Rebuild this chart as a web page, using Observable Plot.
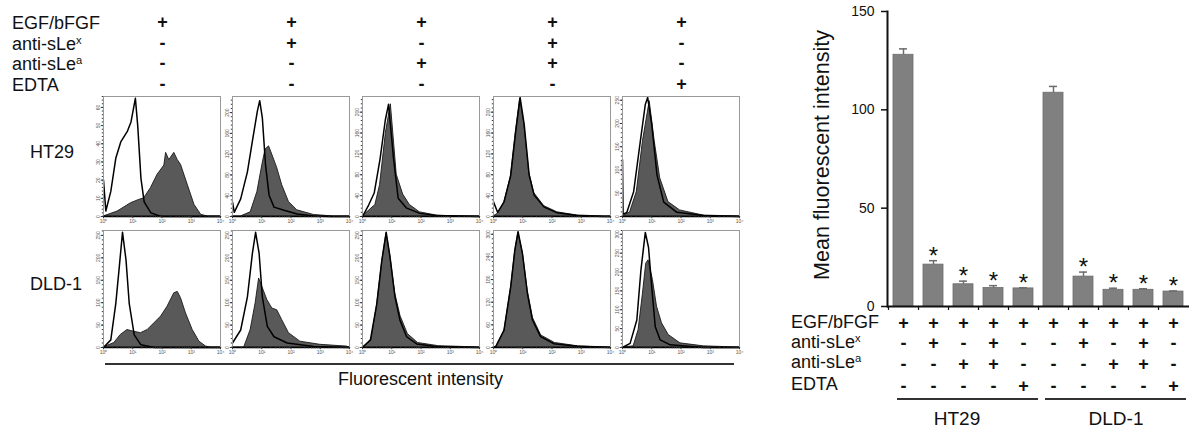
<!DOCTYPE html>
<html><head><meta charset="utf-8">
<script src="https://cdn.jsdelivr.net/npm/d3@7"></script>
<script src="https://cdn.jsdelivr.net/npm/@observablehq/plot@0.6"></script>
<style>
html,body{margin:0;padding:0;background:#fff;}
#root{position:relative;width:1191px;height:428px;overflow:hidden;font-family:"Liberation Sans",Arial,sans-serif;color:#111;}
.t{position:absolute;white-space:nowrap;line-height:1;}
.pm{position:absolute;transform:translate(-50%,-50%);font-size:18px;font-weight:bold;line-height:1;white-space:nowrap;}
sup{font-size:62%;vertical-align:0.5em;line-height:0;}
.abs{position:absolute;}
</style></head><body><div id="root"></div>
<script>
// ---------- treatment table ----------
const rowLabels = ["EGF/bFGF", "anti-sLe<sup>x</sup>", "anti-sLe<sup>a</sup>", "EDTA"];
const egfSigns  = ["+", "+", "+", "+", "+"];
const sLexSigns = ["-", "+", "-", "+", "-"];
const sLeaSigns = ["-", "-", "+", "+", "-"];
const edtaSigns = ["-", "-", "-", "-", "+"];
const cellLines = ["HT29", "DLD-1"];

// ---------- flow histograms: [log10 fluorescence, count] ----------
const ht29_1_fill = [[0,0],[0.48,2.7],[0.94,7.3],[1.2,9],[1.39,10],[1.62,15.6],[1.85,23],[2.08,28],[2.14,35],[2.25,31],[2.42,35],[2.54,31],[2.65,28.4],[2.88,17.4],[3.11,6.4],[3.34,0.9],[3.57,0],[4,0]];
const ht29_1_ctrl = [[0,20],[0.08,3],[0.25,13.8],[0.42,32],[0.59,41],[0.82,47],[0.94,52],[1.09,65],[1.17,50],[1.28,21],[1.39,8],[1.62,2],[1.97,0],[4,0]];
const ht29_2_fill = [[0,0],[0.28,0],[0.62,8],[0.85,47],[1.02,99],[1.13,129],[1.25,135],[1.36,119],[1.53,93],[1.70,60],[1.93,28],[2.21,12],[2.78,3],[3.46,0],[4,0]];
const ht29_2_ctrl = [[0,28],[0.06,8],[0.28,34],[0.51,86],[0.68,145],[0.85,203],[0.93,223],[1.02,190],[1.13,99],[1.25,41],[1.42,18],[1.76,12],[2.21,5],[2.78,1],[3.34,0],[4,0]];
const ht29_3_fill = [[0,0],[0.44,22],[0.6,60],[0.8,160],[0.97,215],[1.17,80],[1.39,42],[1.62,22],[1.96,8],[2.52,2],[3,0.5],[4,0]];
const ht29_3_ctrl = [[0,0],[0.21,22],[0.4,45],[0.6,110],[0.78,185],[0.89,215],[1.06,112],[1.22,35],[1.51,16],[1.96,6],[2.52,2],[4,0]];
const ht29_4_fill = [[0,0],[0.14,5],[0.36,25],[0.59,75],[0.76,160],[0.91,226],[1.05,178],[1.22,85],[1.39,45],[1.73,20],[2.18,8],[2.86,2],[3.77,0],[4,0]];
const ht29_4_ctrl = [[0,28],[0.14,8],[0.36,28],[0.59,79],[0.76,163],[0.91,228],[1.05,176],[1.22,79],[1.39,41],[1.73,18],[2.18,7],[2.86,2],[3.77,0],[4,0]];
const ht29_5_fill = [[0,0],[0.26,9],[0.49,53],[0.7,162],[0.93,248],[1.1,162],[1.29,82],[1.57,31],[1.97,13],[2.77,2],[4,0]];
const ht29_5_ctrl = [[0,122],[0.02,5],[0.15,9],[0.38,53],[0.61,162],[0.78,241],[0.86,256],[1.0,198],[1.18,89],[1.41,31],[1.86,9],[2.78,2],[4,0]];

const dld1_1_fill = [[0,0],[0.37,10],[0.59,28],[0.82,39],[1.05,35],[1.28,32],[1.51,39],[1.74,54],[1.97,69],[2.19,91],[2.42,121],[2.54,124],[2.65,110],[2.82,76],[3.05,39],[3.28,13],[3.51,2],[3.68,0],[4,0]];
const dld1_1_ctrl = [[0,0],[0.25,17],[0.42,98],[0.54,180],[0.65,257],[0.77,195],[0.88,98],[1.05,28],[1.28,6],[1.74,0],[4,0]];
const dld1_2_fill = [[0,0],[0.4,0],[0.62,39],[0.79,98],[0.91,154],[1.02,135],[1.19,106],[1.36,87],[1.53,83],[1.70,61],[1.93,32],[2.32,13],[3.0,6],[3.91,2],[4,0]];
const dld1_2_ctrl = [[0,10],[0.28,39],[0.51,113],[0.68,210],[0.79,257],[0.91,210],[1.02,113],[1.19,47],[1.42,24],[1.87,10],[2.78,2],[4,0]];
const dld1_3_fill = [[0,0],[0.3,15],[0.5,95],[0.67,190],[0.82,255],[0.95,205],[1.12,120],[1.3,70],[1.55,30],[1.9,10],[2.6,3],[4,0]];
const dld1_3_ctrl = [[0,0],[0.27,17],[0.49,98],[0.66,194],[0.81,257],[0.94,202],[1.11,113],[1.28,61],[1.51,24],[1.85,8],[2.52,2],[4,0]];
const dld1_4_fill = [[0,0],[0.1,2],[0.37,42],[0.6,158],[0.74,255],[0.85,304],[1.0,252],[1.17,150],[1.35,78],[1.63,32],[2.1,12],[2.9,3],[4,0]];
const dld1_4_ctrl = [[0,0],[0.08,3],[0.36,46],[0.59,162],[0.73,258],[0.84,307],[0.99,249],[1.16,143],[1.33,73],[1.61,29],[2.07,10],[2.86,3],[4,0]];
const dld1_5_fill = [[0,0],[0.38,3],[0.55,46],[0.70,143],[0.81,222],[0.89,231],[1.04,179],[1.18,108],[1.35,64],[1.58,33],[1.98,11],[2.78,3],[4,0]];
const dld1_5_ctrl = [[0,0],[0.26,11],[0.49,73],[0.63,205],[0.78,305],[0.89,265],[1.0,160],[1.12,55],[1.29,20],[1.63,7],[2.77,0],[4,0]];

const ht29YTicks = [[0,10,20,30,40,50,60],[0,40,80,120,160,200],[0,40,80,120,160,200],[0,40,80,120,160,200],[0,50,100,150,200,250]];
const ht29YMax = [66, 231, 230, 230, 258];
const dld1YTicks = [[0,50,100,150,200,250],[0,50,100,150,200,250],[0,50,100,150,200,250],[0,60,120,180,240,300],[0,50,100,150,200,250,300]];
const dld1YMax = [261, 261, 261, 310, 310];
const xDecadeTicks = [1, 10, 100, 1000, 10000];
const xDecadeLabels = ["10\u2070", "10\u00b9", "10\u00b2", "10\u00b3", "10\u2074"];

// ---------- bar chart ----------
const barIds    = ["H1","H2","H3","H4","H5","D1","D2","D3","D4","D5"];
const barMeans  = [128, 21.3, 11.3, 9.4, 9.2, 108.7, 15.2, 8.5, 8.5, 7.6];
const barErrors = [3.0, 2.0, 1.6, 1.2, 0.3, 3.2, 2.3, 0.8, 0.5, 0.3];
const barSig    = [false, true, true, true, true, false, true, true, true, true];
const barYTicks = [0, 50, 100, 150];

// ---------- layout ----------
const root = document.getElementById("root");
function txt(html, left, baseline, fs, center) {
  const d = document.createElement("div");
  d.className = "t";
  d.style.left = left + "px";
  d.style.top = (baseline - 0.847 * fs) + "px";
  d.style.fontSize = fs + "px";
  if (center) d.style.transform = "translateX(-50%)";
  d.innerHTML = html;
  root.appendChild(d);
  return d;
}
function pm(s, cx, cy) {
  const d = document.createElement("div");
  d.className = "pm";
  d.style.left = cx + "px";
  d.style.top = cy + "px";
  d.textContent = s;
  root.appendChild(d);
}
function hline(x1, x2, y, w) {
  const d = document.createElement("div");
  d.className = "abs";
  d.style.left = x1 + "px"; d.style.width = (x2 - x1) + "px";
  d.style.top = (y - w / 2) + "px"; d.style.height = w + "px";
  d.style.background = "#333";
  root.appendChild(d);
}

// top-left table
const topBaselines = [29.5, 50, 70.5, 91];
const topCenters = [22, 42.5, 63, 84];
rowLabels.forEach((l, i) => txt(l, 12, topBaselines[i], 18));
const panelLefts = [103, 232, 362, 493, 622];
const panelW = 117;
const signRows = [egfSigns, sLexSigns, sLeaSigns, edtaSigns];
signRows.forEach((row, r) => row.forEach((s, c) => pm(s, panelLefts[c] + panelW / 2 + 1, topCenters[r])));

// row labels
txt(cellLines[0], 30, 158, 18);
txt(cellLines[1], 30, 290, 18);

// histogram panels
const xMinor = [];
for (let k = 0; k < 4; k++) for (let m = 2; m <= 9; m++) xMinor.push(m * 10 ** k);

function panel(left, top, innerH, fill, ctrl, yTicks, yMax) {
  const ml = 12, mr = 4, mt = 2, mb = 12;
  const step = yTicks[1] - yTicks[0];
  const yMinor = [];
  for (let v = 0; v <= yMax; v += step / 5) yMinor.push(v);
  const p = Plot.plot({
    width: panelW + ml + mr, height: innerH + mt + mb,
    marginLeft: ml, marginRight: mr, marginTop: mt, marginBottom: mb,
    x: {type: "log", domain: [1, 1e4]},
    y: {domain: [0, yMax]},
    style: {background: "transparent", fontFamily: "Liberation Sans", fontSize: "5px", color: "#555", overflow: "visible"},
    marks: [
      Plot.areaY(fill, {x: d => 10 ** d[0], y: d => d[1], fill: "#595959", stroke: "#1a1a1a", strokeWidth: 0.9}),
      Plot.lineY(ctrl, {x: d => 10 ** d[0], y: d => d[1], stroke: "#000", strokeWidth: 1.5}),
      Plot.frame({stroke: "#999"}),
      Plot.ruleY([0], {stroke: "#000", strokeWidth: 1.3}),
      Plot.axisY({ticks: yMinor, tickSize: 1.2, tickFormat: () => "", label: null, stroke: "#333"}),
      Plot.axisY({ticks: yTicks, tickSize: 2.2, tickPadding: 1, tickRotate: -90, label: null, stroke: "#333"}),
      Plot.axisX({ticks: xMinor, tickSize: 1.2, tickFormat: () => "", label: null, stroke: "#333"}),
      Plot.axisX({ticks: xDecadeTicks, tickSize: 2.2, tickPadding: 1, tickFormat: d => xDecadeLabels[xDecadeTicks.indexOf(d)], label: null, stroke: "#333"})
    ]
  });
  p.style.position = "absolute";
  p.style.left = (left - ml) + "px";
  p.style.top = (top - mt) + "px";
  root.appendChild(p);
}
const ht29Fills = [ht29_1_fill, ht29_2_fill, ht29_3_fill, ht29_4_fill, ht29_5_fill];
const ht29Ctrls = [ht29_1_ctrl, ht29_2_ctrl, ht29_3_ctrl, ht29_4_ctrl, ht29_5_ctrl];
const dld1Fills = [dld1_1_fill, dld1_2_fill, dld1_3_fill, dld1_4_fill, dld1_5_fill];
const dld1Ctrls = [dld1_1_ctrl, dld1_2_ctrl, dld1_3_ctrl, dld1_4_ctrl, dld1_5_ctrl];
for (let i = 0; i < 5; i++) {
  panel(panelLefts[i], 96, 120, ht29Fills[i], ht29Ctrls[i], ht29YTicks[i], ht29YMax[i]);
  panel(panelLefts[i], 230, 117, dld1Fills[i], dld1Ctrls[i], dld1YTicks[i], dld1YMax[i]);
}
hline(105, 734, 364, 1.5);
txt("Fluorescent intensity", 420.5, 385, 18, true);

// bar chart
const bars = barIds.map((id, i) => ({
  id, mean: barMeans[i], err: barErrors[i], sig: barSig[i],
  egf: egfSigns[i % 5], slex: sLexSigns[i % 5], slea: sLeaSigns[i % 5], edta: edtaSigns[i % 5]
}));
const bp = Plot.plot({
  width: 401, height: 428,
  marginLeft: 97, marginRight: 2, marginTop: 11, marginBottom: 122,
  x: {domain: barIds, paddingInner: 1 / 3, paddingOuter: 0.2, axis: null},
  y: {domain: [0, 150], axis: null},
  style: {background: "transparent", fontFamily: "Liberation Sans", fontSize: "14px", color: "#111", overflow: "visible"},
  marks: [
    Plot.barY(bars, {x: "id", y: "mean", fill: "#808080", stroke: "#6c6c6c", strokeWidth: 0.8}),
    Plot.ruleX(bars, {x: "id", y1: "mean", y2: d => d.mean + d.err, stroke: "#6c6c6c", strokeWidth: 1.5}),
    Plot.tickY(bars, {x: "id", y: d => d.mean + d.err, stroke: "#6c6c6c", strokeWidth: 1.5, insetLeft: 6, insetRight: 6}),
    Plot.text(bars.filter(d => d.sig), {x: "id", y: d => d.mean + d.err, text: () => "*", fontSize: 24, lineAnchor: "bottom", dy: 3, fill: "#111"}),
    Plot.ruleY([0], {stroke: "#111", strokeWidth: 2}),
    Plot.frame({anchor: "left", stroke: "#111", strokeWidth: 2}),
    Plot.axisY({ticks: barYTicks, tickSize: 6, tickPadding: 7, label: null, tickFormat: d => String(d), strokeWidth: 1.5}),
    Plot.axisX({tickSize: 4, tickFormat: () => "", dx: -15, label: null, strokeWidth: 1.2}),
    Plot.text(bars, {x: "id", y: () => 0, text: "egf", dy: 17, fontSize: 18, fontWeight: "bold"}),
    Plot.text(bars, {x: "id", y: () => 0, text: "slex", dy: 37, fontSize: 18, fontWeight: "bold"}),
    Plot.text(bars, {x: "id", y: () => 0, text: "slea", dy: 58, fontSize: 18, fontWeight: "bold"}),
    Plot.text(bars, {x: "id", y: () => 0, text: "edta", dy: 80, fontSize: 18, fontWeight: "bold"})
  ]
});
bp.style.position = "absolute";
bp.style.left = "790px";
bp.style.top = "0px";
root.appendChild(bp);

const yLab = document.createElement("div");
yLab.className = "t";
yLab.style.left = "823px"; yLab.style.top = "155px";
yLab.style.fontSize = "21.5px";
yLab.style.transform = "translate(-50%,-50%) rotate(-90deg)";
yLab.textContent = "Mean fluorescent intensity";
root.appendChild(yLab);

const barBaselines = [328, 348, 368, 390];
rowLabels.forEach((l, i) => txt(l, 791, barBaselines[i], 18));
hline(897, 1038, 399, 1.5);
hline(1045, 1186, 399, 1.5);
txt(cellLines[0], 957, 425, 19, true);
txt(cellLines[1], 1116, 425, 19, true);
</script></body></html>
